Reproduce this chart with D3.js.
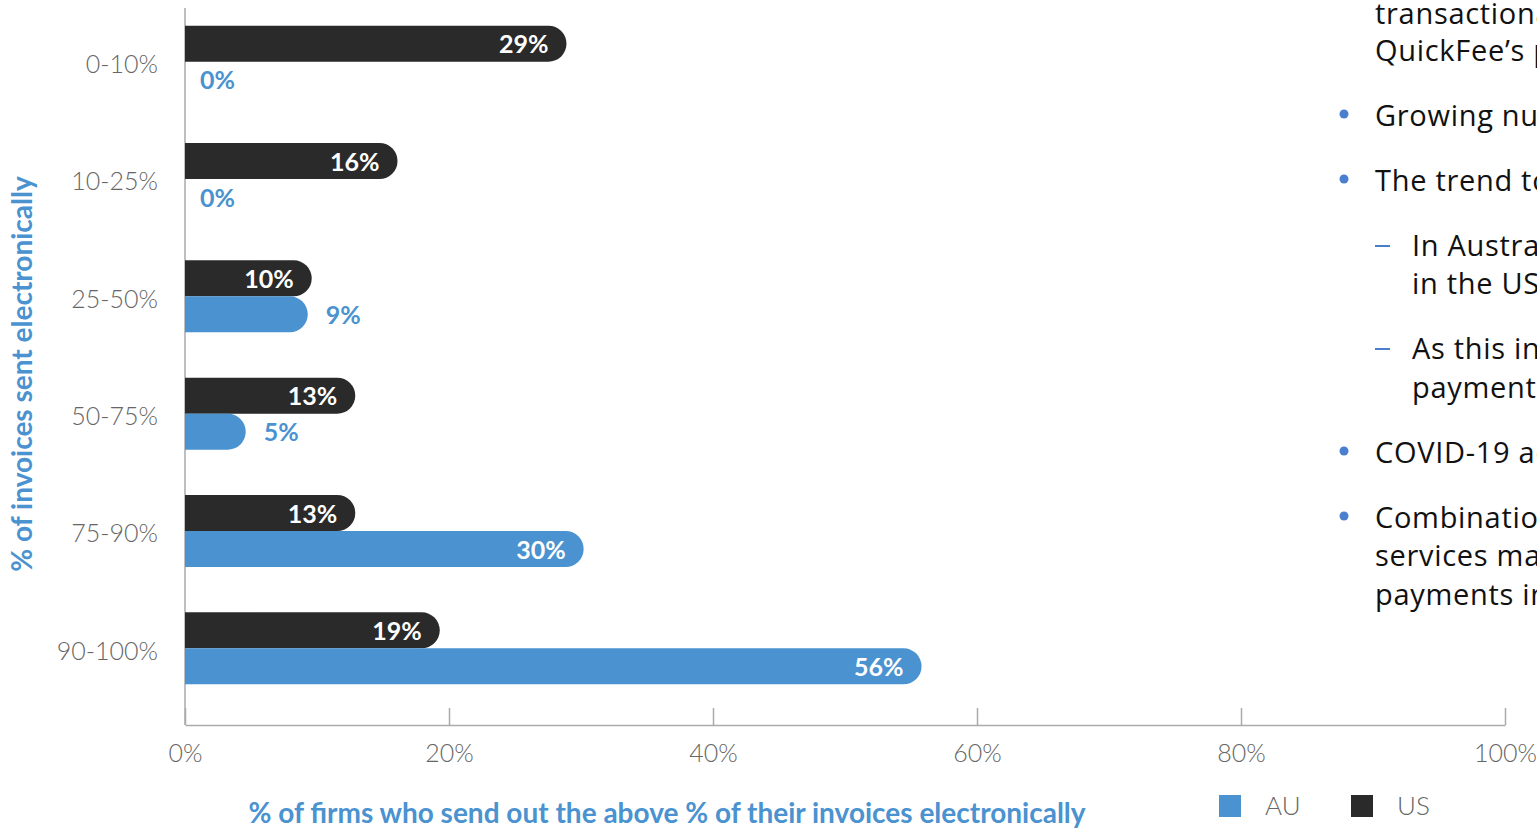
<!DOCTYPE html>
<html>
<head>
<meta charset="utf-8">
<script src="https://cdn.jsdelivr.net/npm/d3@7"></script>
<style>
  body { margin: 0; background: #fff; overflow: hidden; }
  svg { display: block; }
</style>
</head>
<body>
<div id="chart"></div>
<script>
// 데이터 (막대 길이는 그림에서 읽은 값, 라벨은 반올림)
const categories = ["0-10%", "10-25%", "25-50%", "50-75%", "75-90%", "90-100%"];
const usValues = [28.9, 16.1, 9.6, 12.9, 12.9, 19.3];
const auValues = [0, 0, 9.3, 4.6, 30.2, 55.8];
const xTicks = [0, 20, 40, 60, 80, 100];
const seriesNames = ["AU", "US"];

// 오른쪽 텍스트 (잘려서 보이는 부분)
const sideLines = [
  { text: "transactional", level: 0, mark: "" },
  { text: "QuickFee’s platform", level: 0, mark: "" },
  { text: "Growing number of", level: 0, mark: "bullet" },
  { text: "The trend towards", level: 0, mark: "bullet" },
  { text: "In Australia", level: 1, mark: "dash" },
  { text: "in the US", level: 1, mark: "" },
  { text: "As this increases", level: 1, mark: "dash" },
  { text: "payments", level: 1, mark: "" },
  { text: "COVID-19 accelerated", level: 0, mark: "bullet" },
  { text: "Combination of", level: 0, mark: "bullet" },
  { text: "services makes", level: 0, mark: "" },
  { text: "payments in", level: 0, mark: "" },
];
const sideY = [14, 51, 116, 181, 246, 284, 349, 388, 453, 518, 556, 595];

const BLUE = "#4a92d0";
const DARK = "#2a2a2a";

const W = 1537, H = 829;
const svg = d3.select("#chart").append("svg").attr("width", W).attr("height", H);

const x = d3.scaleLinear().domain([0, 100]).range([185, 1505]);
const y = d3.scaleBand().domain(categories).range([3, 707]).padding(0);
const barH = 36;

// 축
svg.append("g")
  .attr("transform", "translate(0,725)")
  .call(d3.axisBottom(x).tickValues(xTicks).tickFormat((d) => d + "%")
    .tickSizeInner(-17).tickSizeOuter(0).tickPadding(19))
  .call((g) => g.selectAll("line, path").attr("stroke", "#aaa").attr("stroke-width", 1.5))
  .call((g) => g.selectAll("text").attr("fill", "#666")
    .style("font-family", "Lato").style("font-weight", 300).style("font-size", "25px"));

svg.append("line")
  .attr("x1", x(0)).attr("x2", x(0)).attr("y1", 8).attr("y2", 725)
  .attr("stroke", "#aaa").attr("stroke-width", 1.5);

svg.append("g")
  .attr("transform", `translate(${x(0)},0)`)
  .call(d3.axisLeft(y).tickSize(0).tickPadding(27))
  .call((g) => g.select(".domain").remove())
  .call((g) => g.selectAll("text").attr("fill", "#666").attr("dy", "0.45em")
    .style("font-family", "Lato").style("font-weight", 300).style("font-size", "25px"));

// 오른쪽 끝이 둥근 막대
function pill(x0, x1, y0, h) {
  if (x1 - x0 <= 0) return "";
  const r = Math.min(h / 2, x1 - x0);
  return `M${x0},${y0}H${x1 - r}A${r},${h / 2} 0 0 1 ${x1},${y0 + h / 2}` +
    `A${r},${h / 2} 0 0 1 ${x1 - r},${y0 + h}H${x0}Z`;
}

const rows = categories.map((c, i) => ({ cat: c, us: usValues[i], au: auValues[i] }));
const center = (d) => y(d.cat) + y.bandwidth() / 2;

svg.selectAll(".us-bar").data(rows).enter().append("path")
  .attr("class", "us-bar")
  .attr("d", (d) => pill(x(0), x(d.us), center(d) - barH, barH))
  .attr("fill", DARK);

svg.selectAll(".au-bar").data(rows).enter().append("path")
  .attr("class", "au-bar")
  .attr("d", (d) => pill(x(0), x(d.au), center(d), barH))
  .attr("fill", BLUE);

const labelStyle = (s) => s.style("font-family", "Lato").style("font-weight", 700).style("font-size", "25px");

svg.selectAll(".us-label").data(rows).enter().append("text")
  .attr("class", "us-label")
  .attr("x", (d) => x(d.us) - 18)
  .attr("y", (d) => center(d) - barH / 2)
  .attr("dy", "0.38em")
  .attr("text-anchor", "end")
  .attr("fill", "#fff")
  .text((d) => Math.round(d.us) + "%")
  .call(labelStyle);

svg.selectAll(".au-label").data(rows).enter().append("text")
  .attr("class", "au-label")
  .attr("x", (d) => (d.au < 10 ? x(d.au) + (d.au === 0 ? 15 : 18) : x(d.au) - 18))
  .attr("y", (d) => center(d) + barH / 2)
  .attr("dy", "0.38em")
  .attr("text-anchor", (d) => (d.au < 10 ? "start" : "end"))
  .attr("fill", (d) => (d.au < 10 ? BLUE : "#fff"))
  .text((d) => Math.round(d.au) + "%")
  .call(labelStyle);

// 축 제목
svg.append("text")
  .attr("x", 667).attr("y", 813).attr("dy", "0.35em")
  .attr("text-anchor", "middle").attr("fill", BLUE)
  .style("font-family", "Lato").style("font-weight", 700).style("font-size", "28px")
  .text("% of firms who send out the above % of their invoices electronically");

svg.append("text")
  .attr("transform", "translate(22,374) rotate(-90)")
  .attr("dy", "0.35em")
  .attr("text-anchor", "middle").attr("fill", BLUE)
  .style("font-family", "Lato").style("font-weight", 700).style("font-size", "28px")
  .text("% of invoices sent electronically");

// 범례
const legendColors = [BLUE, DARK];
const legend = svg.selectAll(".legend").data(seriesNames).enter().append("g")
  .attr("class", "legend")
  .attr("transform", (d, i) => `translate(${1219 + i * 132},795)`);
legend.append("rect").attr("width", 22).attr("height", 22).attr("fill", (d, i) => legendColors[i]);
legend.append("text")
  .attr("x", 46).attr("y", 11).attr("dy", "0.36em")
  .attr("fill", "#666")
  .style("font-family", "Lato").style("font-weight", 300).style("font-size", "26px")
  .text((d) => d);

// 오른쪽 설명 텍스트
const side = svg.selectAll(".side").data(sideLines).enter().append("g")
  .attr("class", "side")
  .attr("transform", (d, i) => `translate(0,${sideY[i]})`);
side.append("text")
  .attr("x", (d) => (d.level ? 1412 : 1375))
  .attr("dy", "0.35em")
  .attr("fill", "#111")
  .style("font-family", "Open Sans").style("font-size", "29px")
  .style("letter-spacing", "0.7px")
  .text((d) => d.text);
side.filter((d) => d.mark === "bullet").append("circle")
  .attr("cx", 1344).attr("cy", -2).attr("r", 4.5).attr("fill", "#4a7fd0");
side.filter((d) => d.mark === "dash").append("line")
  .attr("x1", 1375).attr("x2", 1390).attr("y1", 0).attr("y2", 0)
  .attr("stroke", "#4a7fd0").attr("stroke-width", 2);
</script>
</body>
</html>
